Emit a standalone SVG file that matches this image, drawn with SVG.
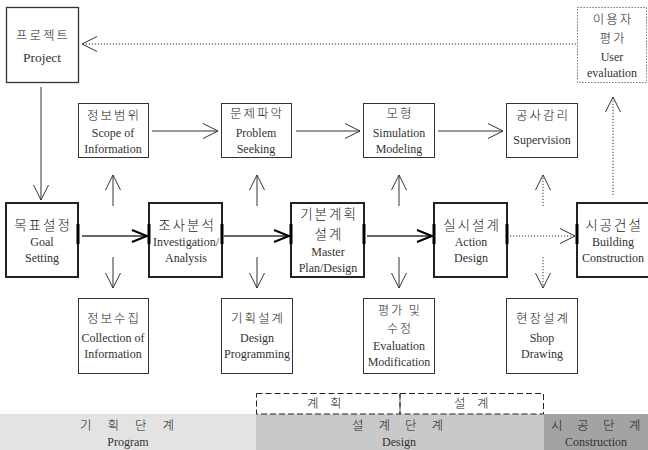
<svg xmlns="http://www.w3.org/2000/svg" width="648" height="450" viewBox="0 0 648 450">
<style>
.ko{font-family:"Noto Sans CJK KR","Noto Sans",sans-serif;font-size:12.5px;font-weight:300;fill:#222;text-anchor:middle;letter-spacing:2px}
.en{font-family:"Liberation Serif",serif;font-size:12px;fill:#333;text-anchor:middle}
.box{fill:#fff;stroke:#333;stroke-width:1}
.main{fill:#fff;stroke:#222;stroke-width:2}
.bar{stroke:#000;stroke-width:3}
.thin{stroke:#333;stroke-width:1;fill:none}
.dot{stroke:#333;stroke-width:1;fill:none;stroke-dasharray:1.2 1.8}
.thick{stroke:#666;stroke-width:2;fill:none}
.band{font-family:"Noto Sans CJK KR","Noto Sans",sans-serif;font-size:12.5px;font-weight:300;fill:#222}
</style>
<defs>
<marker id="a" markerUnits="userSpaceOnUse" markerWidth="18" markerHeight="18" viewBox="0 0 18 18" refX="16" refY="9" orient="auto">
<path d="M1,1.5 L16,9 L1,16.5" fill="none" stroke="#333" stroke-width="1"/>
</marker>
<marker id="b" markerUnits="userSpaceOnUse" markerWidth="18" markerHeight="18" viewBox="0 0 18 18" refX="16" refY="9" orient="auto">
<path d="M1,3 L16,9 L1,15" fill="none" stroke="#000" stroke-width="2"/>
</marker>
</defs>

<g id="bands">
<rect x="0" y="414" width="256" height="36" fill="#e3e3e3"/>
<rect x="256" y="414" width="288" height="36" fill="#c9c9c9"/>
<rect x="544" y="414" width="104" height="36" fill="#a3a3a3"/>
<text class="band" x="80 107.5 135 162.5" y="430">기획단계</text>
<text class="en" x="128" y="446">Program</text>
<text class="band" x="352 378.5 405 431.5" y="430">설계단계</text>
<text class="en" x="399" y="446">Design</text>
<text class="band" x="551 577 603 629" y="430">시공단계</text>
<text class="en" x="596" y="446">Construction</text>
</g>
<g id="phase-plan">
<rect x="256.5" y="393.5" width="143.5" height="20.5" fill="none" stroke="#222" stroke-width="1" stroke-dasharray="6 3"/>
<text class="band" x="307 330" y="408">계획</text>
</g>
<g id="phase-design">
<rect x="400" y="393.5" width="143.5" height="20.5" fill="none" stroke="#222" stroke-width="1" stroke-dasharray="6 3"/>
<text class="band" x="454 477" y="408">설계</text>
</g>

<g id="connectors">
<line class="dot" x1="576" y1="44" x2="82" y2="44" marker-end="url(#a)"/>
<line class="thin" x1="41" y1="87" x2="41" y2="200" marker-end="url(#a)"/>
<line class="thin" x1="152" y1="131" x2="218" y2="131" marker-end="url(#a)"/>
<line class="thin" x1="296" y1="131" x2="360" y2="131" marker-end="url(#a)"/>
<line class="thin" x1="438" y1="131" x2="503" y2="131" marker-end="url(#a)"/>
<line class="dot" x1="613" y1="195" x2="613" y2="97" marker-end="url(#a)"/>
<line class="thick" x1="82" y1="236" x2="147" y2="236" marker-end="url(#b)"/>
<line class="thick" x1="224" y1="236" x2="289" y2="236" marker-end="url(#b)"/>
<line class="thick" x1="367" y1="236" x2="432" y2="236" marker-end="url(#b)"/>
<line class="dot" x1="510" y1="236" x2="575" y2="236" marker-end="url(#a)"/>
<line class="thin" x1="113" y1="206" x2="113" y2="175" marker-end="url(#a)"/>
<line class="thin" x1="113" y1="257" x2="113" y2="288" marker-end="url(#a)"/>
<line class="thin" x1="257" y1="206" x2="257" y2="175" marker-end="url(#a)"/>
<line class="thin" x1="257" y1="257" x2="257" y2="288" marker-end="url(#a)"/>
<line class="thin" x1="399" y1="206" x2="399" y2="175" marker-end="url(#a)"/>
<line class="thin" x1="399" y1="257" x2="399" y2="288" marker-end="url(#a)"/>
<line class="dot" x1="543" y1="206" x2="543" y2="175" marker-end="url(#a)"/>
<line class="dot" x1="543" y1="257" x2="543" y2="288" marker-end="url(#a)"/>
</g>

<g id="project">
<rect class="box" x="6.5" y="7.5" width="72" height="75" style="stroke-width:1.3"/>
<text class="ko" x="43" y="40">프로젝트</text>
<text class="en" x="42" y="62" style="font-size:13.5px">Project</text>
</g>
<g id="user-evaluation">
<rect x="577.5" y="7.5" width="69" height="75" fill="#fff" stroke="#555" stroke-width="1" stroke-dasharray="1.2 1.8"/>
<text class="ko" x="613" y="24">이용자</text>
<text class="ko" x="613" y="43">평가</text>
<text class="en" x="612" y="61">User</text>
<text class="en" x="612" y="77">evaluation</text>
</g>
<g id="scope">
<rect class="box" x="78.5" y="103.5" width="70" height="54"/>
<text class="ko" x="114" y="120">정보범위</text>
<text class="en" x="113" y="137">Scope of</text>
<text class="en" x="113" y="153">Information</text>
</g>
<g id="problem">
<rect class="box" x="221.5" y="103.5" width="70" height="54"/>
<text class="ko" x="257" y="118">문제파악</text>
<text class="en" x="256" y="137">Problem</text>
<text class="en" x="256" y="153">Seeking</text>
</g>
<g id="modeling">
<rect class="box" x="363.5" y="103.5" width="71" height="54"/>
<text class="ko" x="400" y="118">모형</text>
<text class="en" x="399" y="137">Simulation</text>
<text class="en" x="399" y="153">Modeling</text>
</g>
<g id="supervision">
<rect class="box" x="506.5" y="103.5" width="71" height="54"/>
<text class="ko" x="543" y="120">공사감리</text>
<text class="en" x="542" y="144">Supervision</text>
</g>

<g id="goal">
<rect class="main" x="6" y="203" width="72" height="74"/>
<line class="bar" x1="78" y1="224" x2="78" y2="244"/>
<text class="ko" x="43" y="230" style="font-size:13.5px">목표설정</text>
<text class="en" x="42" y="246">Goal</text>
<text class="en" x="42" y="262">Setting</text>
</g>
<g id="investigation">
<rect class="main" x="149" y="203" width="73" height="74"/>
<line class="bar" x1="149" y1="224" x2="149" y2="244"/>
<line class="bar" x1="222" y1="224" x2="222" y2="244"/>
<text class="ko" x="187" y="230" style="font-size:13.5px">조사분석</text>
<text class="en" x="186" y="246">Investigation/</text>
<text class="en" x="186" y="262">Analysis</text>
</g>
<g id="master">
<rect class="main" x="291" y="203" width="73" height="74"/>
<line class="bar" x1="291" y1="224" x2="291" y2="244"/>
<line class="bar" x1="364" y1="224" x2="364" y2="244"/>
<text class="ko" x="329" y="219" style="font-size:13.5px">기본계획</text>
<text class="ko" x="329" y="239" style="font-size:13.5px">설계</text>
<text class="en" x="328" y="256">Master</text>
<text class="en" x="328" y="272">Plan/Design</text>
</g>
<g id="action">
<rect class="main" x="434" y="203" width="73" height="74"/>
<line class="bar" x1="434" y1="224" x2="434" y2="244"/>
<line class="bar" x1="507" y1="224" x2="507" y2="244"/>
<text class="ko" x="472" y="230" style="font-size:13.5px">실시설계</text>
<text class="en" x="471" y="246">Action</text>
<text class="en" x="471" y="262">Design</text>
</g>
<g id="building">
<rect class="main" x="577" y="203" width="73" height="74"/>
<line class="bar" x1="577" y1="224" x2="577" y2="244"/>
<text class="ko" x="614" y="230" style="font-size:13.5px">시공건설</text>
<text class="en" x="613" y="246">Building</text>
<text class="en" x="613" y="262">Construction</text>
</g>

<g id="collection">
<rect class="box" x="78.5" y="298.5" width="70" height="75"/>
<text class="ko" x="114" y="323">정보수집</text>
<text class="en" x="113" y="342">Collection of</text>
<text class="en" x="113" y="358">Information</text>
</g>
<g id="programming">
<rect class="box" x="221.5" y="298.5" width="71" height="75"/>
<text class="ko" x="258" y="323">기획설계</text>
<text class="en" x="257" y="342">Design</text>
<text class="en" x="257" y="358">Programming</text>
</g>
<g id="evaluation">
<rect class="box" x="363.5" y="298.5" width="71" height="75"/>
<text class="ko" x="400" y="315" style="font-size:12px">평가 및</text>
<text class="ko" x="400" y="333" style="font-size:12px">수정</text>
<text class="en" x="399" y="350">Evaluation</text>
<text class="en" x="399" y="366">Modification</text>
</g>
<g id="shop">
<rect class="box" x="506.5" y="298.5" width="71" height="75"/>
<text class="ko" x="543" y="323">현장설계</text>
<text class="en" x="542" y="342">Shop</text>
<text class="en" x="542" y="358">Drawing</text>
</g>
</svg>
